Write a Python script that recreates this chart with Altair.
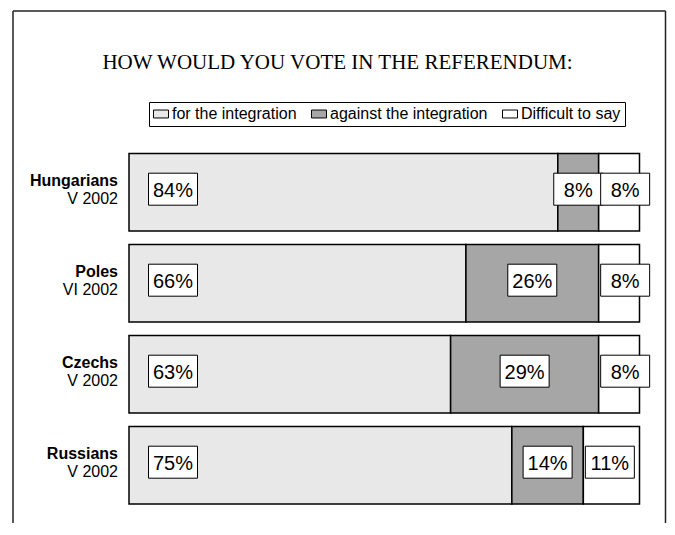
import altair as alt
import pandas as pd

# ---- data ----
countries = ["Hungarians", "Poles", "Czechs", "Russians"]
years = ["V 2002", "VI 2002", "V 2002", "V 2002"]
series = ["for the integration", "against the integration", "Difficult to say"]
for_vals = [84, 66, 63, 75]
against_vals = [8, 26, 29, 14]
difficult_vals = [8, 8, 8, 11]
colors = ["#e8e8e8", "#a6a6a6", "#ffffff"]
title_text = "HOW WOULD YOU VOTE IN THE REFERENDUM:"

rows = []
for i, c in enumerate(countries):
    start = 0
    for s, vals in zip(series, [for_vals, against_vals, difficult_vals]):
        v = vals[i]
        rows.append(dict(country=c, year=years[i], series=s, value=v,
                         start=start, end=start + v, mid=start + v / 2,
                         label=f"{v}%"))
        start += v
df = pd.DataFrame(rows)
df_c = pd.DataFrame({"country": countries, "year": years})

W, H = 653, 512
SANS = "Liberation Sans"
BOX = "M-1,-0.653H1V0.653H-1Z"
LEG_BOX = "M-1,-0.53H1V0.53H-1Z"

x_scale = alt.Scale(domain=[0, 100], range=[116, 626.5])
y_enc = alt.Y("country:N", sort=countries,
              scale=alt.Scale(domain=countries, range=[135.7, 499.7],
                              paddingInner=0.15, paddingOuter=0.075),
              axis=None)

one = alt.Chart(pd.DataFrame({"t": [title_text]}))
frame_left = one.mark_rule(color="#222", strokeWidth=1.5).encode(
    x=alt.value(0), y=alt.value(0), y2=alt.value(H))
frame_top = one.mark_rule(color="#222", strokeWidth=1.5).encode(
    x=alt.value(0), x2=alt.value(652.5), y=alt.value(0))
frame_right = one.mark_rule(color="#222", strokeWidth=1.5).encode(
    x=alt.value(652.5), y=alt.value(0), y2=alt.value(H))
title = one.mark_text(font="Liberation Serif", fontSize=21, color="black",
                      align="center", baseline="alphabetic").encode(
    x=alt.value(324.5), y=alt.value(58), text="t:N")

bars = alt.Chart(df).mark_bar(stroke="black", strokeWidth=1.5, opacity=1).encode(
    x=alt.X("start:Q", scale=x_scale, axis=None),
    x2="end:Q",
    y=y_enc,
    color=alt.Color("series:N",
                    scale=alt.Scale(domain=series, range=colors),
                    legend=alt.Legend(title=None, orient="none", legendX=136, legendY=91,
                                      direction="horizontal", strokeColor="black",
                                      fillColor="white", padding=4,
                                      symbolType=LEG_BOX, symbolSize=225,
                                      symbolStrokeColor="black", symbolStrokeWidth=1,
                                      symbolOpacity=1, labelFont=SANS, labelFontSize=16,
                                      labelColor="black", labelOffset=3,
                                      columnPadding=12, labelLimit=0)),
)

layers = [frame_left, frame_top, frame_right, title, bars]

offsets = [("for the integration", "start", 44),
           ("against the integration", "mid", 0),
           ("Difficult to say", "start", 26.5)]
for s, field, off in offsets:
    sub = alt.Chart(df).transform_filter(alt.datum.series == s)
    box = sub.mark_point(shape=BOX, size=2401, filled=True, fill="white",
                         stroke="black", strokeWidth=1, opacity=1,
                         xOffset=off, yOffset=-3).encode(
        x=alt.X(f"{field}:Q", scale=x_scale, axis=None), y=y_enc)
    txt = sub.mark_text(font=SANS, fontSize=20, color="black", dx=off, dy=5,
                        align="center", baseline="alphabetic").encode(
        x=alt.X(f"{field}:Q", scale=x_scale, axis=None), y=y_enc, text="label:N")
    layers += [box, txt]

cname = alt.Chart(df_c).mark_text(font=SANS, fontSize=16, fontWeight="bold",
                                  color="black", align="right",
                                  baseline="alphabetic", dy=-6).encode(
    x=alt.value(105), y=y_enc, text="country:N")
cyear = alt.Chart(df_c).mark_text(font=SANS, fontSize=16, color="black",
                                  align="right", baseline="alphabetic", dy=12).encode(
    x=alt.value(105), y=y_enc, text="year:N")
layers += [cname, cyear]

chart = alt.layer(*layers).properties(
    width=W, height=H,
    autosize=alt.AutoSizeParams(type="none"),
    padding={"left": 5, "top": 3, "right": 1, "bottom": 0},
).configure_view(stroke=None)

chart.save("out.html", embed_options={"renderer": "svg", "actions": False})
